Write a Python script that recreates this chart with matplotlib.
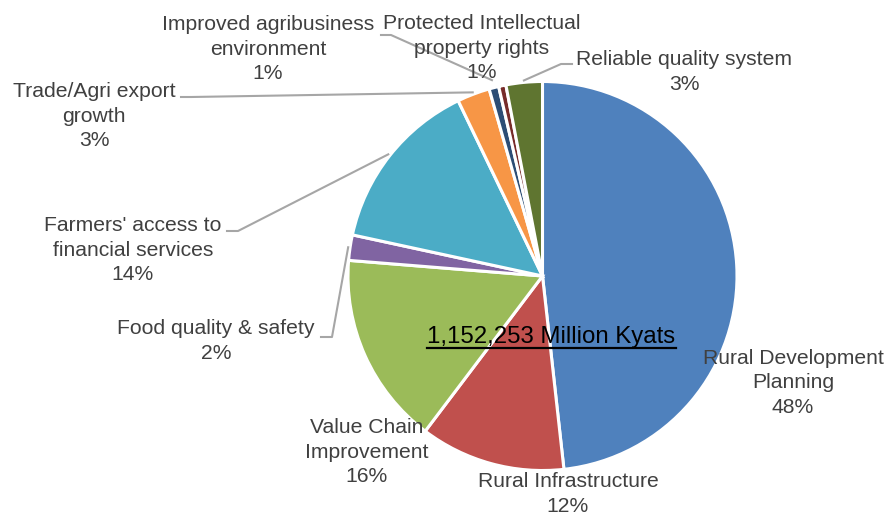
import matplotlib
matplotlib.use("Agg")
import matplotlib.pyplot as plt
from matplotlib.lines import Line2D
import numpy as np

plt.rcParams["font.family"] = ["Liberation Sans", "DejaVu Sans"]

# Budget allocation by programme area (share of total, %)
categories = [
    "Rural Development\nPlanning",
    "Rural Infrastructure",
    "Value Chain\nImprovement",
    "Food quality & safety",
    "Farmers' access to\nfinancial services",
    "Trade/Agri export\ngrowth",
    "Improved agribusiness\nenvironment",
    "Protected Intellectual\nproperty rights",
    "Reliable quality system",
]
shares = [48.0, 12.0, 15.9, 2.1, 14.4, 2.7, 0.8, 0.6, 3.0]
colors = ["#4F81BD", "#C0504D", "#9BBB59", "#8064A2", "#4BACC6",
          "#F79646", "#2C4D75", "#772C2A", "#5F7530"]
total_label = "1,152,253 Million Kyats"

W, H = 887, 516
CX, CY, R = 542.5, 276.0, 194.5


def px(x, y):
    """Pixel position (from top-left) to data coordinates of the pie axes."""
    return (x - CX) / R, (CY - y) / R


# label block centres (pixels)
label_pos = [(793, 383), (568, 494), (367, 452), (216, 341), (133, 250),
             (94, 116), (268, 49), (482, 48), (684, 72)]
# leader lines: label index -> (start, elbow) in pixels, anchor radius
leaders = {
    3: ((321, 337), (332, 337), 1.01),
    4: ((227, 231), (238, 231), 1.01),
    5: ((181, 97), (191, 97), 1.01),
    6: ((381, 35), (391, 35), 1.04),
    8: ((572, 64), (561, 64), 1.01),
}

fig = plt.figure(figsize=(W / 100, H / 100), dpi=100)
ax = fig.add_axes([0, 0, 1, 1])
wedges, _ = ax.pie(shares, colors=colors, startangle=90, counterclock=False,
                   radius=1.0, wedgeprops=dict(edgecolor="white", linewidth=2.2))
ax.set_xlim(-CX / R, (W - CX) / R)
ax.set_ylim(-(H - CY) / R, CY / R)
ax.axis("off")

total = sum(shares)
text_color = "#404040"
for i, (name, val) in enumerate(zip(categories, shares)):
    pct = round(val / total * 100)
    x, y = px(*label_pos[i])
    ax.text(x, y, f"{name}\n{pct}%", ha="center", va="center",
            multialignment="center", fontsize=15.2, color=text_color,
            linespacing=1.36, zorder=5)
    if i in leaders:
        start, elbow, ar = leaders[i]
        w = wedges[i]
        mid = np.deg2rad((w.theta1 + w.theta2) / 2)
        ax_pt = (ar * np.cos(mid), ar * np.sin(mid))
        p0 = px(*start)
        p1 = px(*elbow)
        ax.add_line(Line2D([p0[0], p1[0], ax_pt[0]], [p0[1], p1[1], ax_pt[1]],
                           color="#A6A6A6", lw=1.5, zorder=4))

# total amount, underlined, across the middle of the pie
tx, ty = px(551.5, 343)
t = ax.text(tx, ty, total_label, ha="center", va="baseline", fontsize=17.3,
            color="black", zorder=6)
fig.canvas.draw()
bb = t.get_window_extent(renderer=fig.canvas.get_renderer())
uy = H - 347.5
fig.add_artist(Line2D([bb.x0 / W, bb.x1 / W], [uy / H, uy / H],
                      transform=fig.transFigure, color="black", lw=1.6))

fig.savefig("out.png", dpi=100)
